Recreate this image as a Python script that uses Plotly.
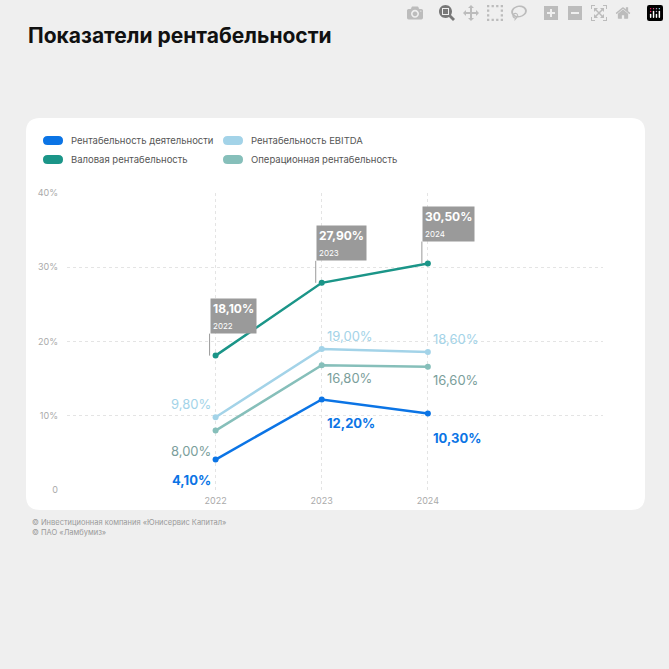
import plotly.graph_objects as go

years = [2022, 2023, 2024]
activity = [4.1, 12.2, 10.3]
ebitda = [9.8, 19.0, 18.6]
gross = [18.1, 27.9, 30.5]
operating = [8.0, 16.8, 16.6]
y_ticks = [0, 10, 20, 30, 40]
y_tick_labels = ['0', '10%', '20%', '30%', '40%']

BLUE = '#0b74e5'
TEAL = '#1b9588'
LIGHT = '#a3d3e8'
OPER = '#86bfba'
FONT = 'Inter'

L, R, T, B = 67, 66, 193, 179
PW, PH = 669 - L - R, 669 - T - B


def px_x(p):
    return (p - L) / PW


def px_y(p):
    return 1 - (p - T) / PH


def rrect(x0, y0, x1, y1, r):
    # rounded rect in paper coords, given in pixels
    a, b, c, d = px_x(x0), px_y(y0), px_x(x1), px_y(y1)
    rx, ry = r / PW, r / PH
    return (f'M{a+rx},{b} L{c-rx},{b} Q{c},{b} {c},{b-ry} L{c},{d+ry} Q{c},{d} {c-rx},{d} '
            f'L{a+rx},{d} Q{a},{d} {a},{d+ry} L{a},{b-ry} Q{a},{b} {a+rx},{b} Z')


def fmt(v):
    return f'{v:.2f}'.replace('.', ',') + '%'


fig = go.Figure()
series = [(activity, BLUE), (ebitda, LIGHT), (operating, OPER), (gross, TEAL)]
for vals, col in series:
    fig.add_trace(go.Scatter(x=years, y=vals, mode='lines+markers', line=dict(color=col, width=2.5),
                             marker=dict(size=6, color=col), showlegend=False, hoverinfo='skip'))

shapes = [dict(type='path', xref='paper', yref='paper', path=rrect(26, 118, 645, 510, 14),
               fillcolor='white', line=dict(width=0), layer='below')]
annotations = []

# legend
legend = [('Рентабельность деятельности', BLUE, 43, 140), ('Рентабельность EBITDA', LIGHT, 223, 140),
          ('Валовая рентабельность', TEAL, 43, 159), ('Операционная рентабельность', OPER, 223, 159)]
for name, col, x, y in legend:
    shapes.append(dict(type='path', xref='paper', yref='paper', path=rrect(x, y - 4, x + 20, y + 5, 4.5),
                       fillcolor=col, line=dict(width=0)))
    annotations.append(dict(xref='paper', yref='paper', x=px_x(x + 26), y=px_y(y), text=name, showarrow=False,
                            xanchor='left', yanchor='middle', font=dict(size=9.5, color='#555', family=FONT)))

# data labels
for i, yr in enumerate(years):
    annotations.append(dict(x=yr, y=gross[i], text=f'<b>{fmt(gross[i])}</b><br><span style="font-size:8px">{yr}</span>',
                            showarrow=True, arrowhead=0, arrowwidth=1, arrowcolor='#9a9a9a', ax=0, ay=-22,
                            xanchor='left', yanchor='bottom', xshift=-6, bgcolor='#9a9a9a', borderpad=2, align='left',
                            font=dict(size=12, color='white', family=FONT)))
    annotations.append(dict(x=yr, y=ebitda[i], text=fmt(ebitda[i]), showarrow=False, yshift=13,
                            xanchor='right' if i == 0 else 'left', xshift=-3 if i == 0 else 3,
                            font=dict(size=13, color=LIGHT, family=FONT)))
    annotations.append(dict(x=yr, y=operating[i], text=fmt(operating[i]), showarrow=False,
                            yshift=-20 if i == 0 else -13, xanchor='right' if i == 0 else 'left',
                            xshift=-3 if i == 0 else 3, font=dict(size=13, color='#7a9e9b', family=FONT)))
    annotations.append(dict(x=yr, y=activity[i], text=f'<b>{fmt(activity[i])}</b>', showarrow=False,
                            yshift=-20 if i == 0 else -24, xanchor='right' if i == 0 else 'left',
                            xshift=-3 if i == 0 else 3, font=dict(size=13, color=BLUE, family=FONT)))

annotations += [
    dict(xref='paper', yref='paper', x=px_x(26), y=px_y(35), text='<b>Показатели рентабельности</b>', showarrow=False,
         xanchor='left', yanchor='middle', font=dict(size=21, color='#111', family=FONT)),
    dict(xref='paper', yref='paper', x=px_x(30), y=px_y(522), text='© Инвестиционная компания «Юнисервис Капитал»',
         showarrow=False, xanchor='left', yanchor='middle', font=dict(size=7.5, color='#999', family=FONT)),
    dict(xref='paper', yref='paper', x=px_x(30), y=px_y(532), text='© ПАО «Ламбумиз»',
         showarrow=False, xanchor='left', yanchor='middle', font=dict(size=7.5, color='#999', family=FONT)),
]

fig.update_layout(width=669, height=669, margin=dict(l=L, r=R, t=T, b=B), paper_bgcolor='#efefef',
                  plot_bgcolor='white', shapes=shapes, annotations=annotations, font=dict(family=FONT))
fig.update_xaxes(range=[2022 - 1.4, 2024 + 1.65], tickvals=years, ticktext=[str(y) for y in years],
                 showgrid=True, gridcolor='#e4e4e4', griddash='dot', zeroline=False,
                 tickfont=dict(size=9, color='#aaa'), ticks='', ticklabelstandoff=4)
fig.update_yaxes(range=[0, 40], tickvals=y_ticks, ticktext=y_tick_labels, showgrid=True, gridcolor='#e4e4e4',
                 griddash='dot', zeroline=False, tickfont=dict(size=9, color='#aaa'), ticks='', ticklabelstandoff=8)

fig.write_html('out.html', post_script="document.body.style.margin='0';")
